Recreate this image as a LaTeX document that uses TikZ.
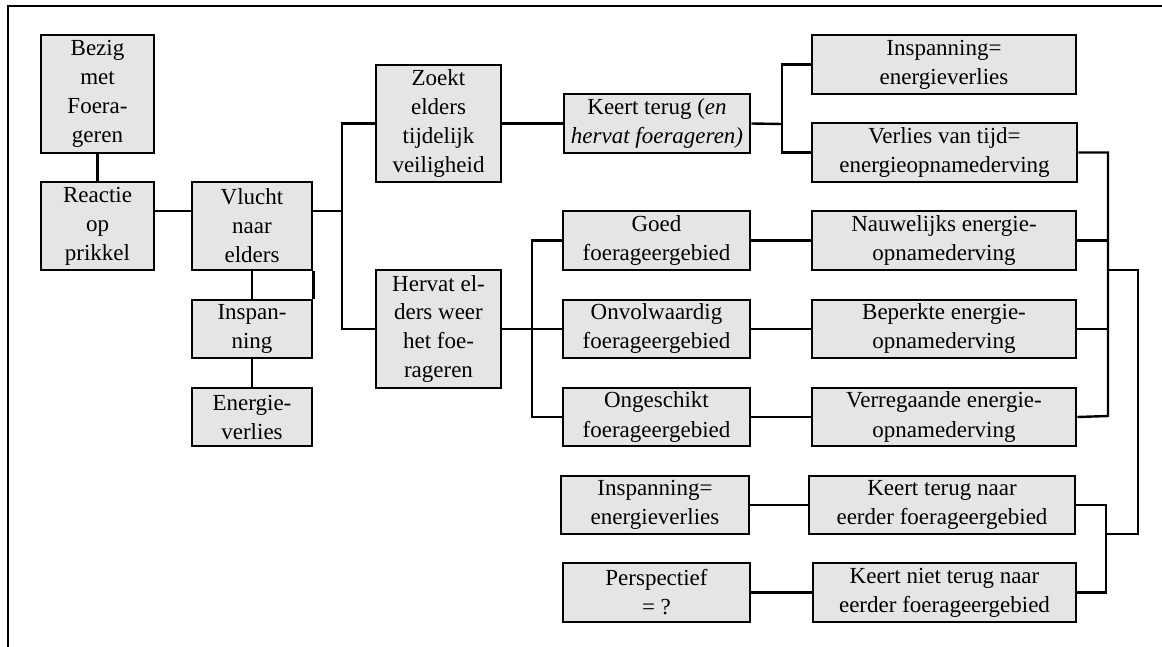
\documentclass[tikz,border=0pt]{standalone}
\usepackage{fontspec}
\setmainfont{Liberation Serif}
% box given by its corners (x1,y1) and (x2,y2) in page units
\newcommand\pbox[6]{%
  \node[box, minimum width={(#4-#2)*0.5pt}, minimum height={(#5-#3)*0.5pt}]
    (#1) at ({(#2+#4)/2},{(#3+#5)/2}) {#6};}
\begin{document}
\begin{tikzpicture}[x=0.5pt,y=-0.5pt,
  box/.style={draw, fill=black!10, line width=1.4pt, inner sep=0pt,
    align=center, font=\fontsize{11.5}{14.5}\selectfont},
  link/.style={line width=1.2pt},
  frame/.style={line width=1.2pt}]
\useasboundingbox (0,0) rectangle (1162,647);

% page frame
\draw[frame] (8,647) -- (8,6) -- (1162,6);

% left column
\pbox{bezig}{41}{35}{154}{153}{Bezig\\met\\Foera-\\geren}
\pbox{reactie}{41}{182}{154}{270}{Reactie\\op\\prikkel}
\pbox{vlucht}{192}{182}{312}{270}{Vlucht\\naar\\elders}
\pbox{inspan}{192}{300}{312}{358}{Inspan-\\ning}
\pbox{energie}{192}{388}{312}{446}{Energie-\\verlies}

% second column
\pbox{zoekt}{376}{65}{501}{182}{Zoekt\\elders\\tijdelijk\\veiligheid}
\pbox{hervat}{376}{270}{501}{388}{Hervat el-\\ders weer\\het foe-\\rageren}

% third column
\pbox{keert}{564}{94}{750}{153}{Keert terug (\textit{en}\\\textit{hervat foerageren)}}
\pbox{goed}{563}{211}{750}{270}{Goed\\foerageergebied}
\pbox{onvol}{563}{300}{750}{358}{Onvolwaardig\\foerageergebied}
\pbox{ongesch}{563}{388}{750}{446}{Ongeschikt\\foerageergebied}
\pbox{inspB}{561}{476}{749}{534}{Inspanning=\\energieverlies}
\pbox{persp}{563}{563}{750}{622}{Perspectief\\= ?}

% fourth column
\pbox{inspA}{812}{35}{1076}{94}{Inspanning=\\energieverlies}
\pbox{verlies}{812}{123}{1077}{182}{Verlies van tijd=\\energieopnamederving}
\pbox{nauw}{812}{211}{1076}{270}{Nauwelijks energie-\\opnamederving}
\pbox{beperk}{812}{300}{1076}{358}{Beperkte energie-\\opnamederving}
\pbox{verreg}{812}{388}{1076}{446}{Verregaande energie-\\opnamederving}
\pbox{kterug}{809}{476}{1075}{534}{Keert terug naar\\eerder foerageergebied}
\pbox{kniet}{813}{563}{1076}{622}{Keert niet terug naar\\eerder foerageergebied}

% junction points
\coordinate (j1) at (342,211);
\coordinate (j2) at (782,124);
\coordinate (j3) at (532,329);
\coordinate (b3) at (1108,416);
\coordinate (b4t) at (1138,270);
\coordinate (b4b) at (1138,534);
\coordinate (b5) at (1106,534);

% connectors
\draw[link] (bezig.south) -- (reactie.north);
\draw[link] (reactie.east |- j1) -- (vlucht.west |- j1);
\draw[link] (vlucht.east |- j1) -- (j1);
\draw[link] (zoekt.west) -| (j1) |- (hervat.west);
\draw[link] (vlucht.south) -- (inspan.north);
\draw[link] (vlucht.south east) -- (inspan.north east);
\draw[link] (inspan.south) -- (energie.north);

\draw[link] (zoekt.east) -- (keert.west);
\draw[link] (keert.east) -- (j2);
\draw[link] (inspA.west) -| (j2) |- (verlies.west);

\draw[link] (hervat.east) -- (onvol.west);
\draw[link] (goed.west) -| (j3) |- (ongesch.west);
\draw[link] (goed.east) -- (nauw.west);
\draw[link] (onvol.east) -- (beperk.west);
\draw[link] (ongesch.east) -- (verreg.west);

\draw[link] (verlies.east) -| (b3) -- (verreg.east);
\draw[link] (nauw.east) -- (nauw.east -| b3);
\draw[link] (beperk.east) -- (beperk.east -| b3);
\draw[link] (b4t -| b3) -- (b4t) -- (b4b) -- (b5);
\draw[link] (kterug.east) -| (b5) |- (kniet.east);
\draw[link] (inspB.east) -- (kterug.west);
\draw[link] (persp.east) -- (kniet.west);
\end{tikzpicture}
\end{document}
